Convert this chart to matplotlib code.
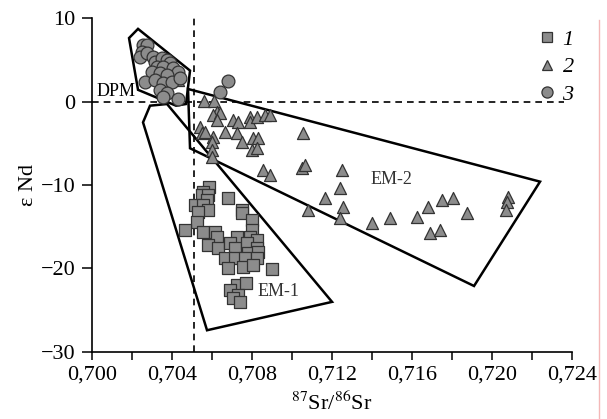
import matplotlib
matplotlib.use("Agg")
import matplotlib.pyplot as plt
from matplotlib.patches import Polygon
from matplotlib.lines import Line2D

plt.rcParams['font.family'] = ['Liberation Serif', 'DejaVu Serif']
plt.rcParams['mathtext.fontset'] = 'stix'

# ---- data ----
sq_x = [0.70585, 0.70555, 0.7055, 0.7058, 0.70575, 0.7068, 0.70515, 0.70555, 0.7058, 0.7053,
        0.7075, 0.7075, 0.7080, 0.70525, 0.70465, 0.70555, 0.70615, 0.70625, 0.7080, 0.7079,
        0.70725, 0.70825, 0.7058, 0.7063, 0.7069, 0.70715, 0.70775, 0.70825, 0.7078, 0.7083,
        0.70665, 0.70715, 0.70765, 0.70825, 0.7068, 0.70755, 0.70805, 0.7090, 0.70725, 0.7077,
        0.7069, 0.7073, 0.70705, 0.7074]
sq_y = [-10.2, -10.8, -11.2, -11.2, -11.8, -11.6, -12.4, -12.4, -13.0, -13.2,
        -13.0, -13.4, -14.2, -14.4, -15.4, -15.6, -15.6, -16.2, -15.4, -16.2,
        -16.2, -16.6, -17.2, -17.5, -16.9, -17.5, -16.9, -17.5, -18.1, -18.0,
        -18.7, -18.7, -18.7, -18.7, -19.9, -19.8, -19.6, -20.1, -22.0, -21.7,
        -22.6, -23.2, -23.5, -24.0]

tr_x = [0.7056, 0.7061, 0.70625, 0.70605, 0.7064, 0.70625, 0.70705, 0.7073, 0.7079, 0.7079,
        0.70825, 0.70865, 0.7089, 0.7054, 0.7055, 0.70665, 0.70725, 0.70605, 0.7060, 0.7075,
        0.70805, 0.7083, 0.7080, 0.70825, 0.7060, 0.7060, 0.70855, 0.7089, 0.71055, 0.7105,
        0.71065, 0.7125, 0.7124, 0.71165, 0.71255, 0.7108, 0.7124, 0.7140, 0.7149, 0.71625,
        0.7168, 0.7175, 0.71805, 0.71875, 0.7169, 0.7174, 0.7208, 0.72075, 0.7207, 0.70565,
        0.7043]
tr_y = [0.1, 0.1, -1.3, -1.6, -1.4, -2.2, -2.2, -2.5, -1.9, -2.5,
        -1.9, -1.6, -1.6, -3.1, -3.8, -3.7, -3.8, -4.3, -4.9, -4.9,
        -4.4, -4.4, -5.8, -5.6, -5.8, -6.6, -8.2, -8.8, -3.8, -8.0,
        -7.6, -8.2, -10.4, -11.6, -12.6, -13.0, -14.0, -14.6, -14.0, -13.8,
        -12.6, -11.8, -11.6, -13.4, -15.7, -15.4, -11.4, -12.0, -13.0, -3.7,
        2.6]

ci_x = [0.70255, 0.70275, 0.7025, 0.7024, 0.70275, 0.70305, 0.70315, 0.7035, 0.70375, 0.7039,
        0.70325, 0.70355, 0.70405, 0.7043, 0.7030, 0.7034, 0.70375, 0.70265, 0.70315, 0.70355,
        0.7040, 0.7044, 0.7034, 0.70375, 0.70355, 0.7043, 0.7068, 0.7064]
ci_y = [6.8, 6.8, 5.9, 5.3, 5.8, 5.3, 4.7, 5.2, 5.0, 4.6,
        4.1, 4.1, 4.0, 3.5, 3.5, 3.4, 3.2, 2.3, 2.6, 2.2,
        2.3, 2.8, 1.4, 1.0, 0.5, 0.3, 2.5, 1.1]

dpm_poly = [(0.70185, 7.6), (0.7023, 8.7), (0.7049, 3.7), (0.7047, -0.3), (0.7042, -0.5), (0.7023, 1.4)]
em1_poly = [(0.7029, -0.5), (0.70255, -2.5), (0.70575, -27.4), (0.7120, -24.0), (0.70375, -0.3)]
em2_poly = [(0.7048, 1.5), (0.7224, -9.6), (0.7191, -22.1), (0.7049, -5.6)]

x_ticks = [0.700, 0.704, 0.708, 0.712, 0.716, 0.720, 0.724]
x_labels = ['0,700', '0,704', '0,708', '0,712', '0,716', '0,720', '0,724']
x_minor = [0.702, 0.706, 0.710, 0.714, 0.718, 0.722]
y_ticks = [-30, -20, -10, 0, 10]
y_labels = ['\u221230', '\u221220', '\u221210', '0', '10']
legend_labels = ['1', '2', '3']

# ---- figure ----
fig = plt.figure(figsize=(6.07, 4.19), dpi=100)
ax = fig.add_axes([0.1516, 0.160, 0.7908, 0.797])
ax.set_xlim(0.700, 0.724)
ax.set_ylim(-30, 10)

for poly in (dpm_poly, em1_poly, em2_poly):
    ax.add_patch(Polygon(poly, closed=True, fill=False, edgecolor='black', lw=1.8, zorder=3))

ax.plot([0.7051, 0.7051], [-30, 10], ls=(0, (4, 3)), color='black', lw=1.2, zorder=2)
ax.plot([0.700, 0.7236], [0, 0], ls=(0, (4, 3)), color='black', lw=1.2, zorder=2)

fc = '#8c8c8c'
ec = '#333333'
ax.scatter(sq_x, sq_y, marker='s', s=72, facecolor=fc, edgecolor=ec, lw=0.9, zorder=4)
ax.scatter(tr_x, tr_y, marker='^', s=75, facecolor=fc, edgecolor=ec, lw=0.9, zorder=4)
ax.scatter(ci_x, ci_y, marker='o', s=85, facecolor=fc, edgecolor=ec, lw=0.9, zorder=5)

ax.text(0.7002, 0.15, 'DPM', fontsize=13, ha='left', va='bottom', zorder=6)
ax.text(0.7139, -9.4, 'EM-2', fontsize=13, ha='left', va='center', color='#333333', zorder=6)
ax.text(0.70825, -22.8, 'EM-1', fontsize=13, ha='left', va='center', color='#333333', zorder=6)

handles = [
    Line2D([], [], ls='', marker='s', ms=7, mfc=fc, mec=ec, mew=0.9),
    Line2D([], [], ls='', marker='^', ms=7.5, mfc=fc, mec=ec, mew=0.9),
    Line2D([], [], ls='', marker='o', ms=8, mfc=fc, mec=ec, mew=0.9),
]
leg = ax.legend(handles, legend_labels, loc='upper right', bbox_to_anchor=(1.045, 1.025),
                frameon=False, handletextpad=0.2, labelspacing=0.3, handlelength=1.0,
                prop={'family': 'Liberation Serif', 'style': 'italic', 'size': 16})

ax.spines['top'].set_visible(False)
ax.spines['right'].set_visible(False)
ax.spines['left'].set_linewidth(1.2)
ax.spines['bottom'].set_linewidth(1.2)

ax.set_xticks(x_ticks)
ax.set_xticklabels(x_labels)
ax.set_xticks(x_minor, minor=True)
ax.set_yticks(y_ticks)
ax.set_yticklabels(y_labels)
ax.tick_params(axis='both', which='both', direction='out', width=1.1, labelsize=16)
ax.tick_params(axis='x', which='both', length=6, pad=4)
ax.tick_params(axis='y', which='both', length=7, pad=5)

ax.set_ylabel('\u03b5 Nd', fontsize=16, labelpad=2)
ax.set_xlabel(r'$^{87}$Sr/$^{86}$Sr', fontsize=16, labelpad=5)

fig.add_artist(Line2D([599/607, 599/607], [0, 1 - 20/419], color='#f4b8b8', lw=1))

fig.savefig('out.png', dpi=100)
